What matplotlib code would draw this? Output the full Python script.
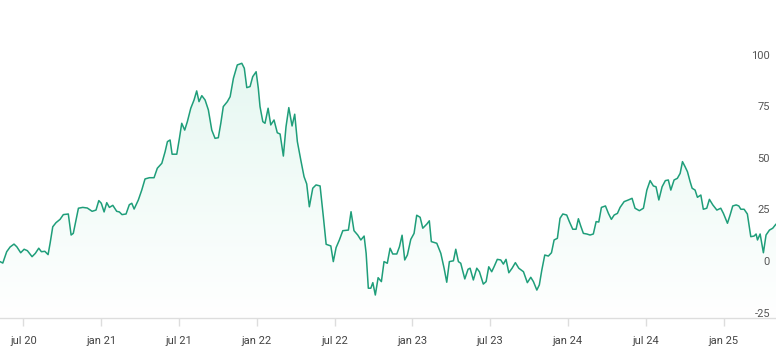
import numpy as np
import matplotlib
matplotlib.use("Agg")
import matplotlib.pyplot as plt

# time as decimal years
t = [2020.350, 2020.368, 2020.393, 2020.415, 2020.440, 2020.458, 2020.483, 2020.505,
     2020.526, 2020.556, 2020.577, 2020.599, 2020.616, 2020.638, 2020.659, 2020.672,
     2020.689, 2020.710, 2020.736, 2020.757, 2020.789, 2020.807, 2020.821, 2020.854,
     2020.882, 2020.911, 2020.942, 2020.967, 2020.985, 2021.001, 2021.019, 2021.036,
     2021.053, 2021.075, 2021.100, 2021.117, 2021.134, 2021.160, 2021.181, 2021.197,
     2021.212, 2021.239, 2021.261, 2021.282, 2021.310, 2021.340, 2021.361, 2021.390,
     2021.411, 2021.426, 2021.443, 2021.456, 2021.486, 2021.503, 2021.518, 2021.537,
     2021.554, 2021.576, 2021.597, 2021.614, 2021.629, 2021.647, 2021.668, 2021.689,
     2021.711, 2021.732, 2021.753, 2021.769, 2021.785, 2021.811, 2021.829, 2021.850,
     2021.875, 2021.904, 2021.920, 2021.936, 2021.957, 2021.974, 2021.996, 2022.010,
     2022.021, 2022.039, 2022.053, 2022.073, 2022.090, 2022.111, 2022.132, 2022.150,
     2022.171, 2022.188, 2022.206, 2022.227, 2022.244, 2022.261, 2022.283, 2022.304,
     2022.321, 2022.338, 2022.360, 2022.381, 2022.407, 2022.428, 2022.446, 2022.476,
     2022.492, 2022.510, 2022.531, 2022.553, 2022.589, 2022.606, 2022.625, 2022.649,
     2022.669, 2022.690, 2022.703, 2022.717, 2022.733, 2022.746, 2022.762, 2022.780,
     2022.801, 2022.818, 2022.839, 2022.857, 2022.874, 2022.900, 2022.917, 2022.934,
     2022.951, 2022.968, 2022.990, 2023.011, 2023.028, 2023.050, 2023.067, 2023.093,
     2023.109, 2023.122, 2023.157, 2023.183, 2023.204, 2023.221, 2023.238, 2023.264,
     2023.279, 2023.296, 2023.311, 2023.337, 2023.358, 2023.371, 2023.392, 2023.414,
     2023.431, 2023.456, 2023.474, 2023.491, 2023.510, 2023.525, 2023.546, 2023.568,
     2023.585, 2023.602, 2023.620, 2023.641, 2023.662, 2023.684, 2023.714, 2023.739,
     2023.761, 2023.778, 2023.800, 2023.816, 2023.832, 2023.851, 2023.874, 2023.894,
     2023.911, 2023.932, 2023.949, 2023.967, 2023.992, 2024.009, 2024.031, 2024.052,
     2024.067, 2024.082, 2024.099, 2024.121, 2024.142, 2024.163, 2024.181, 2024.198,
     2024.215, 2024.241, 2024.260, 2024.279, 2024.297, 2024.318, 2024.335, 2024.361,
     2024.388, 2024.412, 2024.431, 2024.459, 2024.485, 2024.507, 2024.528, 2024.549,
     2024.566, 2024.584, 2024.605, 2024.626, 2024.645, 2024.661, 2024.682, 2024.703,
     2024.721, 2024.736, 2024.753, 2024.768, 2024.785, 2024.798, 2024.817, 2024.832,
     2024.854, 2024.870, 2024.892, 2024.909, 2024.931, 2024.957, 2024.982, 2024.999,
     2025.025, 2025.042, 2025.059, 2025.081, 2025.098, 2025.111, 2025.132, 2025.153,
     2025.175, 2025.196, 2025.209, 2025.218, 2025.235, 2025.256, 2025.273, 2025.295,
     2025.316, 2025.337]

v = [-0.3, -1.0, 4.5, 6.8, 8.2, 6.9, 4.0, 5.7,
     5.0, 2.1, 3.7, 6.2, 4.5, 4.7, 3.1, 8.6,
     16.6, 18.6, 20.2, 22.5, 22.8, 12.6, 13.4, 25.6,
     26.0, 25.7, 24.1, 24.7, 29.3, 28.0, 23.8, 28.3,
     26.0, 27.0, 24.1, 23.8, 22.5, 22.8, 27.3, 28.0,
     25.2, 29.6, 34.4, 39.8, 40.4, 40.4, 45.0, 47.4,
     53.0, 57.9, 58.7, 51.8, 51.8, 59.5, 66.8, 63.5,
     67.6, 74.1, 78.1, 82.5, 77.3, 80.2, 78.1, 73.3,
     63.5, 59.5, 59.8, 66.8, 74.9, 77.3, 79.7, 88.6,
     95.1, 95.9, 93.5, 84.1, 84.6, 89.4, 91.8, 83.8,
     74.9, 67.6, 66.8, 74.1, 66.0, 68.4, 62.2, 61.6,
     50.9, 65.1, 74.4, 65.5, 71.2, 57.9, 49.0, 40.9,
     37.4, 26.3, 35.3, 36.9, 36.4, 21.5, 8.1, 7.3,
     -0.3, 6.5, 10.2, 14.7, 15.0, 23.9, 14.7, 12.6,
     10.2, 12.1, 3.7, -13.2, -13.2, -10.5, -16.5, -8.1,
     -10.0, -0.3, -1.1, 6.2, 3.4, 3.4, 6.9, 12.5,
     0.5, 2.9, 10.5, 13.4, 22.2, 21.2, 15.9, 17.9,
     19.5, 9.4, 8.6, 3.7, -3.5, -10.3, -0.3, 0.1,
     5.7, -0.3, -1.1, -8.7, -4.0, -3.5, -9.2, -3.5,
     -5.2, -11.2, -10.0, -2.8, -5.2, -2.8, 0.8, 0.5,
     -1.5, 0.8, -5.7, -3.5, -0.8, -3.5, -5.2, -10.5,
     -7.9, -10.0, -14.1, -11.6, -4.4, 2.9, 2.4, 4.0,
     10.2, 11.0, 20.7, 22.8, 22.3, 19.1, 15.4, 15.4,
     20.5, 17.0, 13.4, 13.1, 12.6, 13.1, 19.1, 18.9,
     26.0, 26.7, 23.1, 20.2, 22.3, 23.1, 26.0, 28.8,
     29.6, 30.4, 25.6, 24.4, 25.6, 34.4, 39.0, 36.4,
     36.0, 29.6, 36.0, 39.0, 39.3, 34.4, 39.3, 40.1,
     42.5, 48.2, 45.7, 43.3, 38.5, 35.3, 34.4, 30.9,
     32.0, 25.1, 25.6, 29.9, 27.2, 24.7, 25.6, 23.1,
     18.3, 22.3, 26.7, 27.2, 26.7, 25.1, 25.1, 22.8,
     11.8, 12.1, 13.1, 10.2, 13.1, 4.0, 12.6, 15.0,
     15.9, 17.9]

x_ticks = [2020.5, 2021.0, 2021.5, 2022.0, 2022.5, 2023.0, 2023.5, 2024.0, 2024.5, 2025.0]
x_labels = ["jul 20", "jan 21", "jul 21", "jan 22", "jul 22",
            "jan 23", "jul 23", "jan 24", "jul 24", "jan 25"]
y_ticks = [-25, 0, 25, 50, 75, 100]

line_color = "#1f9e7a"

fig = plt.figure(figsize=(7.76, 3.55), dpi=100)
ax = fig.add_axes([0, 37 / 355, 1, 318 / 355])

xmin, xmax = t[0], t[-1]
ymin, ymax = -27.65, 126.6
ax.set_xlim(xmin, xmax)
ax.set_ylim(ymin, ymax)

# gradient fill under the line
grad = np.linspace(0, 1, 256).reshape(-1, 1)
cmap = matplotlib.colors.LinearSegmentedColormap.from_list("g", ["#ffffff", "#e0f6ee"])
img = ax.imshow(grad, extent=[xmin, xmax, ymin, ymax], origin="lower",
                aspect="auto", cmap=cmap, zorder=1)
poly = ax.fill_between(t, v, ymin, color="none", lw=0)
img.set_clip_path(poly.get_paths()[0], transform=ax.transData)

ax.plot(t, v, color=line_color, lw=1.1, zorder=3,
        solid_joinstyle="round", solid_capstyle="round")

for s in ["top", "left", "right"]:
    ax.spines[s].set_visible(False)
ax.spines["bottom"].set_color("#dddddd")
ax.spines["bottom"].set_linewidth(1)

ax.set_xticks(x_ticks)
ax.set_xticklabels(x_labels, fontfamily="Roboto", fontsize=8, color="#444444")
ax.tick_params(axis="x", length=6, width=1, color="#dddddd", pad=7)

ax.yaxis.tick_right()
ax.set_yticks(y_ticks)
ax.set_yticklabels([str(y) for y in y_ticks], fontfamily="Roboto", fontsize=8,
                   color="#555555")
ax.tick_params(axis="y", length=0, pad=-4.3)
for lbl in ax.get_yticklabels():
    lbl.set_horizontalalignment("right")

fig.savefig("out.png", dpi=100)
